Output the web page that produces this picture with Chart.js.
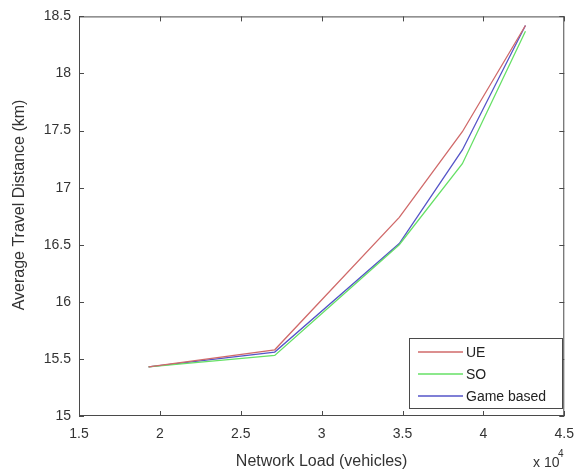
<!DOCTYPE html>
<html>
<head>
<meta charset="utf-8">
<script src="https://cdn.jsdelivr.net/npm/chart.js@4.4.1/dist/chart.umd.min.js"></script>
<style>
  html, body { margin: 0; padding: 0; background: #fff; }
  #wrap { width: 584px; height: 471px; }
</style>
</head>
<body>
<div id="wrap"><canvas id="chart"></canvas></div>
<script>
// data (load in vehicles)
const loads = [19300, 27100, 34800, 38700, 42600]
const ue = [15.43, 15.58, 16.74, 17.49, 18.42]
const so = [15.43, 15.53, 16.50, 17.21, 18.37]
const game = [15.43, 15.56, 16.51, 17.33, 18.42]
const seriesNames = ['UE', 'SO', 'Game based']
const seriesColors = ['#d06a6a', '#66e066', '#5555c8']
const xTicks = [15000, 20000, 25000, 30000, 35000, 40000, 45000]
const yTicks = [15, 15.5, 16, 16.5, 17, 17.5, 18, 18.5]

const font = 'Liberation Sans, Arial, sans-serif'
const axisColor = '#4a4a4a'

const toPoints = (ys) => loads.map((x, i) => ({ x: x, y: ys[i] }))

// MATLAB style box, inward ticks, legend, y title and exponent label
const matlabBox = {
  id: 'matlabBox',
  afterDraw(chart) {
    const ctx = chart.ctx
    const a = chart.chartArea
    const xs = chart.scales.x
    const ys = chart.scales.y
    ctx.save()
    ctx.strokeStyle = axisColor
    ctx.lineWidth = 1
    ctx.strokeRect(a.left + 0.5, a.top + 0.5, a.right - a.left - 1, a.bottom - a.top - 1)
    ctx.beginPath()
    xTicks.forEach(v => {
      const px = Math.round(xs.getPixelForValue(v)) + 0.5
      ctx.moveTo(px, a.bottom); ctx.lineTo(px, a.bottom - 5)
      ctx.moveTo(px, a.top); ctx.lineTo(px, a.top + 5)
    })
    yTicks.forEach(v => {
      const py = Math.round(ys.getPixelForValue(v)) + 0.5
      ctx.moveTo(a.left, py); ctx.lineTo(a.left + 5, py)
      ctx.moveTo(a.right, py); ctx.lineTo(a.right - 5, py)
    })
    ctx.stroke()

    // y axis title (sits a bit above the axis centre, as in the figure)
    ctx.save()
    ctx.translate(20, 205)
    ctx.rotate(-Math.PI / 2)
    ctx.fillStyle = '#333'
    ctx.font = '16px ' + font
    ctx.textAlign = 'center'
    ctx.textBaseline = 'middle'
    ctx.fillText('Average Travel Distance (km)', 0, 0)
    ctx.restore()

    // exponent
    ctx.fillStyle = '#333'
    ctx.font = '14px ' + font
    ctx.textBaseline = 'alphabetic'
    ctx.textAlign = 'left'
    ctx.fillText('x 10', 533, 467)
    ctx.font = '10px ' + font
    ctx.fillText('4', 558, 457)

    // legend
    const lx = 409, ly = 338, lw = 153, lh = 70
    ctx.fillStyle = '#fff'
    ctx.fillRect(lx, ly, lw, lh)
    ctx.strokeStyle = axisColor
    ctx.strokeRect(lx + 0.5, ly + 0.5, lw, lh)
    ctx.font = '14px ' + font
    ctx.textBaseline = 'middle'
    chart.data.datasets.forEach((ds, i) => {
      const ry = ly + 14 + i * 22
      ctx.strokeStyle = ds.borderColor
      ctx.lineWidth = 1.3
      ctx.beginPath()
      ctx.moveTo(418, ry); ctx.lineTo(463, ry)
      ctx.stroke()
      ctx.fillStyle = '#222'
      ctx.fillText(ds.label, 466, ry + 1)
    })
    ctx.restore()
  }
}

new Chart(document.getElementById('chart'), {
  type: 'line',
  data: {
    datasets: [ue, so, game].map((ys, i) => ({
      label: seriesNames[i],
      data: toPoints(ys),
      borderColor: seriesColors[i],
      backgroundColor: seriesColors[i],
      borderWidth: 1.3,
      pointRadius: 0,
      tension: 0,
      fill: false
    }))
  },
  options: {
    responsive: true,
    maintainAspectRatio: false,
    animation: false,
    layout: { padding: { top: 14, right: 16, left: 0, bottom: 0 } },
    plugins: {
      legend: { display: false },
      tooltip: { enabled: false }
    },
    scales: {
      x: {
        type: 'linear',
        min: 15000,
        max: 45000,
        afterBuildTicks: (s) => { s.ticks = xTicks.map(v => ({ value: v })) },
        afterFit: (s) => { s.height = 55 },
        grid: { display: false, drawTicks: false },
        border: { display: false },
        ticks: {
          padding: 10,
          color: '#333',
          font: { family: font, size: 14 },
          callback: (v) => String(v / 10000),
          maxRotation: 0
        },
        title: {
          display: true,
          text: 'Network Load (vehicles)',
          color: '#333',
          font: { family: font, size: 16 },
          padding: { top: 1, bottom: 0 }
        }
      },
      y: {
        min: 15,
        max: 18.5,
        afterBuildTicks: (s) => { s.ticks = yTicks.map(v => ({ value: v })) },
        afterFit: (s) => { s.width = 79 },
        grid: { display: false, drawTicks: false },
        border: { display: false },
        ticks: {
          padding: 8,
          color: '#333',
          font: { family: font, size: 14 },
          callback: (v) => String(v)
        },
        title: { display: false }
      }
    }
  },
  plugins: [matlabBox]
})
</script>
</body>
</html>
